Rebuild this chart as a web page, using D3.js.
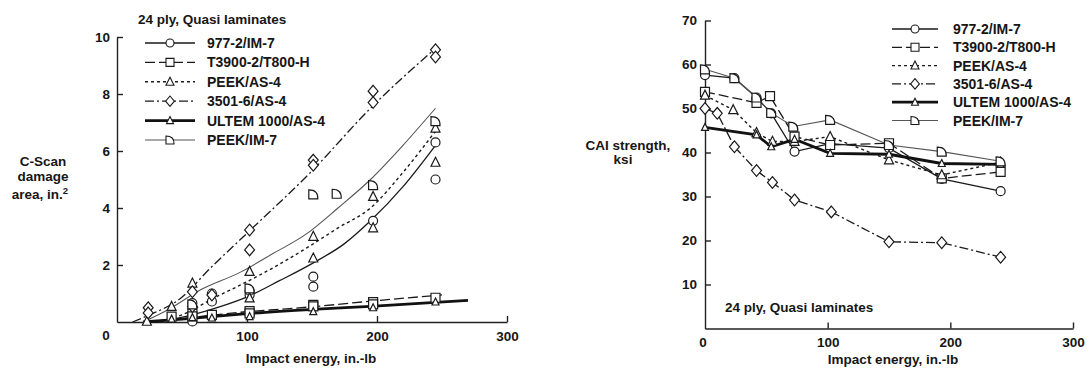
<!DOCTYPE html>
<html lang="en">
<head>
<meta charset="UTF-8" />
<title>Damage area and CAI strength vs impact energy</title>
<script src="https://cdn.jsdelivr.net/npm/d3@7"></script>
<style>
  body { margin: 0; background: #fff; }
  text { font-family: "Liberation Sans", Arial, sans-serif; font-weight: bold; fill: #161616; }
  .axis path, .axis line { stroke: #222; stroke-width: 1.4; }
  .axis text { font-size: 13.5px; }
</style>
</head>
<body>
<script>
// materials, in legend order
var materials = ["977-2/IM-7", "T3900-2/T800-H", "PEEK/AS-4", "3501-6/AS-4", "ULTEM 1000/AS-4", "PEEK/IM-7"];
var energyTicks = [100, 200, 300];
var damageTicks = [2, 4, 6, 8, 10];
var caiTicks = [10, 20, 30, 40, 50, 60, 70];

// C-scan damage area (in.^2) test points [energy, area]
var dmg977 = [[58, 0.66], [58, 0.02], [73, 1.0], [73, 0.72], [102, 0.95], [102, 1.1], [151, 1.59], [151, 1.24], [197, 3.55], [245, 6.3], [245, 5.0]];
var dmgT3900 = [[42, 0.19], [58, 0.3], [58, 0.2], [73, 0.25], [102, 0.38], [102, 0.3], [151, 0.6], [151, 0.55], [197, 0.7], [197, 0.62], [245, 0.85]];
var dmgPeekAs4 = [[23, 0.02], [42, 0.54], [58, 1.36], [102, 1.77], [102, 0.84], [151, 3.0], [151, 2.24], [197, 4.4], [197, 3.3], [245, 6.8], [245, 5.6]];
var dmg3501 = [[24, 0.5], [24, 0.32], [58, 1.06], [58, 0.54], [73, 0.95], [102, 3.23], [102, 2.53], [151, 5.68], [151, 5.5], [197, 8.1], [197, 7.7], [245, 9.55], [245, 9.3]];
var dmgUltem = [[42, 0.1], [58, 0.15], [73, 0.14], [102, 0.19], [151, 0.36], [197, 0.5], [245, 0.7]];
var dmgPeekIm7 = [[58, 0.62], [102, 1.18], [151, 4.48], [169, 4.5], [197, 4.8], [245, 7.05]];

// fitted trend curves [energy, area]
var fit977 = [[20, 0], [40, 0.08], [60, 0.28], [80, 0.55], [102, 0.92], [125, 1.45], [150, 2.05], [175, 2.75], [195, 3.55], [220, 4.75], [245, 6.2]];
var fitT3900 = [[20, 0], [50, 0.12], [75, 0.25], [102, 0.37], [130, 0.46], [154, 0.55], [195, 0.73], [250, 0.95]];
var fitPeekAs4 = [[30, 0], [50, 0.25], [74, 0.83], [95, 1.3], [120, 1.9], [146, 2.6], [170, 3.3], [195, 4.0], [220, 5.25], [245, 6.7]];
var fit3501 = [[12, 0], [25, 0.25], [48, 0.8], [72, 1.9], [102, 3.2], [150, 5.3], [195, 7.5], [245, 9.6]];
var fitUltem = [[20, 0], [50, 0.1], [75, 0.2], [102, 0.3], [154, 0.45], [195, 0.55], [270, 0.76]];
var fitPeekIm7 = [[20, 0], [40, 0.45], [64, 1.12], [95, 1.75], [120, 2.4], [146, 3.1], [170, 4.0], [195, 5.0], [220, 6.2], [245, 7.5]];

// CAI strength (ksi) [energy, strength]
var cai977 = [[0, 57.6], [24, 56.9], [42, 52.5], [54, 48.9], [73, 40.2], [102, 42], [150, 41], [193, 34], [241, 31.2]];
var caiT3900 = [[0, 53.8], [42, 51.3], [53, 52.8], [73, 43.6], [102, 41.7], [150, 42.1], [193, 34.1], [241, 35.6]];
var caiPeekAs4 = [[0, 53], [23, 49.7], [42, 44.5], [55, 42.5], [73, 42.5], [102, 43.6], [150, 38.3], [193, 34.9], [241, 37.8]];
var cai3501 = [[0, 50], [10, 48.9], [24, 41.3], [42, 35.9], [55, 33.2], [73, 29.2], [103, 26.5], [150, 19.7], [193, 19.5], [241, 16.2]];
var caiUltem = [[0, 45.7], [42, 44], [54, 41.3], [73, 43], [102, 39.8], [150, 39.6], [193, 37.5], [241, 37.3]];
var caiPeekIm7 = [[0, 58.9], [24, 56.9], [42, 52.5], [54, 49], [72, 45.9], [102, 47.4], [150, 41.7], [193, 40.2], [241, 38]];

var dmgPoints = [dmg977, dmgT3900, dmgPeekAs4, dmg3501, dmgUltem, dmgPeekIm7];
var dmgFits = [fit977, fitT3900, fitPeekAs4, fit3501, fitUltem, fitPeekIm7];
var caiPoints = [cai977, caiT3900, caiPeekAs4, cai3501, caiUltem, caiPeekIm7];

// line / marker look for each material
var styles = [
  { dash: null, width: 1.3, color: "#1a1a1a", marker: "circle", r: 4.5 },
  { dash: "10,4", width: 1.3, color: "#1a1a1a", marker: "square", r: 4.5 },
  { dash: "3,3", width: 1.4, color: "#1a1a1a", marker: "triangle", r: 4.5 },
  { dash: "9,3,2,3", width: 1.3, color: "#1a1a1a", marker: "diamond", r: 4.5 },
  { dash: null, width: 2.8, color: "#111", marker: "triangle", r: 3.5 },
  { dash: null, width: 1.1, color: "#555", marker: "dee", r: 4.5 }
];

function markerPath(type, r) {
  if (type === "circle") return "M" + r + ",0A" + r + "," + r + " 0 1 1 " + (-r) + ",0A" + r + "," + r + " 0 1 1 " + r + ",0Z";
  if (type === "square") return "M" + (-r) + "," + (-r) + "H" + r + "V" + r + "H" + (-r) + "Z";
  if (type === "triangle") return "M0," + (-r * 1.15) + "L" + r + "," + (r * 0.85) + "L" + (-r) + "," + (r * 0.85) + "Z";
  if (type === "diamond") return "M0," + (-r * 1.3) + "L" + (r * 1.1) + ",0L0," + (r * 1.3) + "L" + (-r * 1.1) + ",0Z";
  return "M" + (-r) + "," + r + "V" + (-r) + "Q" + (r * 1.1) + "," + (-r) + " " + r + "," + r + "Z";
}

var svg = d3.select("body").append("svg")
  .attr("width", 1087)
  .attr("height", 371);

function drawMarkers(g, pts, st, x, y) {
  g.selectAll(null)
    .data(pts)
    .enter()
    .append("path")
    .attr("d", markerPath(st.marker, st.r))
    .attr("transform", function(d) { return "translate(" + x(d[0]) + "," + y(d[1]) + ")"; })
    .attr("fill", "#fff")
    .attr("stroke", "#1a1a1a")
    .attr("stroke-width", 1.2);
}

function drawLegend(g, x0, x1, tx, y0, step) {
  materials.forEach(function(name, i) {
    var st = styles[i];
    var yy = y0 + i * step;
    g.append("line")
      .attr("x1", x0).attr("x2", x1).attr("y1", yy).attr("y2", yy)
      .attr("stroke", st.color).attr("stroke-width", st.width)
      .attr("stroke-dasharray", st.dash);
    g.append("path")
      .attr("d", markerPath(st.marker, i === 4 ? 3.5 : 4))
      .attr("transform", "translate(" + (x0 + x1) / 2 + "," + yy + ")")
      .attr("fill", "#fff").attr("stroke", "#1a1a1a").attr("stroke-width", 1.1);
    g.append("text")
      .attr("x", tx).attr("y", yy + 5)
      .style("font-size", "14px")
      .text(name);
  });
}

// ---------- left: C-scan damage area ----------
var xL = d3.scaleLinear().domain([0, 300]).range([117, 507]);
var yL = d3.scaleLinear().domain([0, 10]).range([322, 37]);
var left = svg.append("g");

left.append("g").attr("class", "axis")
  .attr("transform", "translate(0,322)")
  .call(d3.axisBottom(xL).tickValues(energyTicks).tickSizeInner(-6).tickSizeOuter(0).tickPadding(9));
left.append("g").attr("class", "axis")
  .attr("transform", "translate(117,0)")
  .call(d3.axisLeft(yL).tickValues(damageTicks).tickSizeInner(-6).tickSizeOuter(0).tickPadding(7));
left.append("text").attr("x", 106).attr("y", 340).attr("text-anchor", "middle").style("font-size", "13.5px").text("0");

var lineL = d3.line().x(function(d) { return xL(d[0]); }).y(function(d) { return yL(d[1]); }).curve(d3.curveMonotoneX);
dmgFits.forEach(function(pts, i) {
  var st = styles[i];
  left.append("path").attr("d", lineL(pts)).attr("fill", "none")
    .attr("stroke", st.color).attr("stroke-width", st.width).attr("stroke-dasharray", st.dash);
});
dmgPoints.forEach(function(pts, i) { drawMarkers(left, pts, styles[i], xL, yL); });

left.append("text").attr("x", 138).attr("y", 24).style("font-size", "13.5px").text("24 ply, Quasi laminates");
drawLegend(left, 145, 195, 207, 43, 19.4);

left.append("text").attr("x", 311).attr("y", 363).attr("text-anchor", "middle").style("font-size", "13.5px").text("Impact energy, in.-lb");
var yt = left.append("text").attr("text-anchor", "middle").style("font-size", "13.5px");
yt.append("tspan").attr("x", 43).attr("y", 166).text("C-Scan");
yt.append("tspan").attr("x", 43).attr("y", 181).text("damage");
yt.append("tspan").attr("x", 40).attr("y", 199).text("area, in.");
yt.append("tspan").attr("dy", -5).style("font-size", "9.5px").text("2");

// ---------- right: CAI strength ----------
var xR = d3.scaleLinear().domain([0, 300]).range([705, 1073]);
var yR = d3.scaleLinear().domain([0, 70]).range([328.5, 20.5]);
var right = svg.append("g");

right.append("g").attr("class", "axis")
  .attr("transform", "translate(0,328.5)")
  .call(d3.axisBottom(xR).tickValues(energyTicks).tickSizeInner(-6).tickSizeOuter(0).tickPadding(9));
right.append("g").attr("class", "axis")
  .attr("transform", "translate(705,0)")
  .call(d3.axisLeft(yR).tickValues(caiTicks).tickSizeInner(-6).tickSizeOuter(0).tickPadding(8));
right.append("text").attr("x", 703).attr("y", 347).attr("text-anchor", "middle").style("font-size", "13.5px").text("0");

var lineR = d3.line().x(function(d) { return xR(d[0]); }).y(function(d) { return yR(d[1]); });
caiPoints.forEach(function(pts, i) {
  var st = styles[i];
  right.append("path").attr("d", lineR(pts)).attr("fill", "none")
    .attr("stroke", st.color).attr("stroke-width", st.width).attr("stroke-dasharray", st.dash);
});
caiPoints.forEach(function(pts, i) { drawMarkers(right, pts, styles[i], xR, yR); });

right.append("text").attr("x", 725).attr("y", 312).style("font-size", "13.5px").text("24 ply, Quasi laminates");
drawLegend(right, 892, 938, 953, 29, 18.3);

right.append("text").attr("x", 893).attr("y", 364).attr("text-anchor", "middle").style("font-size", "13.5px").text("Impact energy, in.-lb");
var yr = right.append("text").attr("text-anchor", "middle").style("font-size", "13.5px");
yr.append("tspan").attr("x", 628).attr("y", 150).text("CAI strength,");
yr.append("tspan").attr("x", 623).attr("y", 164).text("ksi");
</script>
</body>
</html>
